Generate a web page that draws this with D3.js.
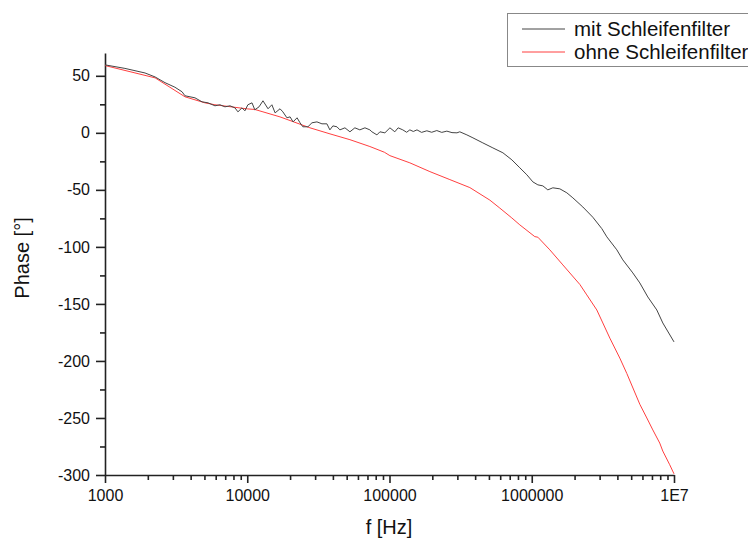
<!DOCTYPE html>
<html>
<head>
<meta charset="utf-8">
<script src="https://cdn.jsdelivr.net/npm/d3@7"></script>
<style>
    body { margin: 0; background: #fff; }
    svg { font-family: "Liberation Sans", Arial, sans-serif; }
    .axis path, .axis line { stroke: #222; stroke-width: 1.6; }
    .axis text { font-size: 16px; fill: #111; }
    .axis-title { font-size: 20px; fill: #111; }
    .legend text { font-size: 20.5px; fill: #111; }
</style>
</head>
<body>
<div id="chart"></div>
<script>

// series names (legend)
var seriesNames = ["mit Schleifenfilter", "ohne Schleifenfilter"];

// mit Schleifenfilter: frequency [Hz] / phase [°]
var mitFreq = [1000, 1380, 1910, 2250, 2640, 3100, 3480, 3650, 4290, 4810, 5300, 5930, 6430, 6970,
    7560, 8200, 8600, 9180, 9630, 10100, 10800, 11300, 12100, 12900, 14000, 14900, 15700, 17000,
    17800, 19000, 20000, 21000, 22400, 23500, 24600, 26700, 28500, 30900, 33500, 36300, 38100,
    40000, 42700, 44800, 48600, 52700, 57100, 61900, 67200, 72800, 75200, 81600, 85600, 92800,
    100700, 109000, 115000, 124000, 132000, 139000, 147000, 156000, 168000, 183000, 198000,
    215000, 233000, 253000, 275000, 298000, 312000,
    350000, 386000, 453000, 533000, 627000, 725000, 825000, 924000, 1018000, 1104000, 1197000,
    1297000, 1407000, 1576000, 1765000, 1945000, 2286000, 2688000, 3109000, 3372000, 3964000,
    4368000, 5134000, 5751000, 6545000, 7571000, 8343000, 10000000];
var mitPhase = [59.6, 56.5, 52.5, 49.0, 44.0, 40.0, 36.0, 32.5, 30.7, 27.2, 26.3, 23.7, 24.6, 22.8,
    23.7, 21.9, 18.4, 21.9, 19.3, 24.6, 26.3, 20.2, 22.8, 28.1, 21.1, 24.6, 17.5, 21.1,
    18.4, 13.2, 14.0, 9.6, 13.2, 8.8, 5.3, 5.3, 8.8, 9.6, 7.9, 7.9, 2.6,
    6.1, 5.3, 2.6, 4.4, 0.9, 4.4, 2.6, 4.4, 2.6, 0.9, -1.8, 0.9, 0,
    4.4, 0.9, 4.4, 2.6, 0.5, 2.6, 1.2, 2.6, 0.4, 1.8, 0.5,
    2.0, 0.4, 1.5, 0.2, 0, 0.9,
    -1.8, -4.4, -8.8, -13.2, -17.5, -23.7, -30.7, -36.8, -43.0, -45.6, -46.5,
    -50.0, -48.2, -49.1, -52.6, -57.0, -65.0, -74.0, -84.0, -91.2, -102.6,
    -111.4, -122.8, -131.6, -143.9, -155.3, -166.7, -183.3];

// ohne Schleifenfilter: frequency [Hz] / phase [°]
var ohneFreq = [1000, 2250, 3650, 5040, 5930, 10000, 11300, 12900, 16980, 27600, 38150, 52700,
    72800, 92000, 100700, 139000, 192300, 265700, 367200, 507600, 596700, 724000, 824700,
    1051000, 1104000, 1340000, 1655000, 2180000, 2438000, 2866000, 3160000, 3540000, 4160000,
    4660000, 5750000, 6440000, 7100000, 7940000, 8340000, 9330000, 10000000];
var ohnePhase = [59.0, 48.2, 31.6, 26.3, 24.6, 21.0, 20.5, 18.4, 14.0, 4.4, -0.9, -6.0,
    -12.0, -17.0, -20.0, -26.3, -34.0, -41.0, -48.0, -59.0, -66.0, -74.6, -80.7,
    -91.0, -91.5, -102.6, -115.8, -133.0, -142.1, -155.3, -166.7, -180.0, -197.5,
    -211.0, -238.0, -250.0, -260.5, -272.0, -279.0, -291.0, -299.0];

// axis ticks
var xTickValues = [1000, 10000, 100000, 1000000, 10000000];
var xTickLabels = ["1000", "10000", "100000", "1000000", "1E7"];
var yTickValues = [-300, -250, -200, -150, -100, -50, 0, 50];

var seriesColors = ["#444444", "#ff3f3f"];

PhaseChart = function(_parentElement){
    this.parentElement = _parentElement;
    this.initVis();
}

PhaseChart.prototype.initVis = function(){
    var vis = this;

    vis.margin = { top: 53, right: 74, bottom: 64, left: 105 };
    vis.width = 748 - vis.margin.left - vis.margin.right;
    vis.height = 539 - vis.margin.top - vis.margin.bottom;

    vis.root = d3.select("#" + vis.parentElement).append("svg")
        .attr("width", 748)
        .attr("height", 539);
    vis.svg = vis.root.append("g")
        .attr("transform", "translate(" + vis.margin.left + "," + vis.margin.top + ")");

    vis.x = d3.scaleLog().domain([1000, 10000000]).range([0, vis.width]);
    vis.y = d3.scaleLinear().domain([-300, 70]).range([vis.height, 0]);

    vis.displayData = [
        { name: seriesNames[0], values: mitFreq.map(function(f, i){ return { f: f, p: mitPhase[i] }; }) },
        { name: seriesNames[1], values: ohneFreq.map(function(f, i){ return { f: f, p: ohnePhase[i] }; }) }
    ];

    vis.drawAxes();
    vis.updateVis();
    vis.drawLegend();
}

PhaseChart.prototype.drawAxes = function(){
    var vis = this;

    // minor ticks first, majors on top
    var xMinor = [];
    xTickValues.slice(0, -1).forEach(function(d){
        for (var k = 2; k < 10; k++) xMinor.push(d * k);
    });
    vis.svg.append("g")
        .attr("class", "axis")
        .attr("transform", "translate(0," + vis.height + ")")
        .call(d3.axisBottom(vis.x).tickValues(xMinor).tickSize(5).tickFormat(""))
        .select(".domain").remove();

    vis.xAxis = d3.axisBottom(vis.x)
        .tickValues(xTickValues)
        .tickSizeInner(8).tickSizeOuter(0)
        .tickPadding(7)
        .tickFormat(function(d, i){ return xTickLabels[i]; });
    vis.svg.append("g")
        .attr("class", "x-axis axis")
        .attr("transform", "translate(0," + vis.height + ")")
        .call(vis.xAxis);

    var yMinor = yTickValues.map(function(d){ return d + 25; }).filter(function(d){ return d < 70; });
    vis.svg.append("g")
        .attr("class", "axis")
        .call(d3.axisLeft(vis.y).tickValues(yMinor).tickSize(5).tickFormat(""))
        .select(".domain").remove();

    // plain hyphen for negatives, like the original
    vis.yAxis = d3.axisLeft(vis.y)
        .tickValues(yTickValues)
        .tickSizeInner(9).tickSizeOuter(0)
        .tickPadding(6)
        .tickFormat(function(d){ return String(d); });
    vis.svg.append("g")
        .attr("class", "y-axis axis")
        .call(vis.yAxis);

    vis.root.append("text")
        .attr("class", "axis-title")
        .attr("text-anchor", "middle")
        .attr("transform", "translate(29,258) rotate(-90)")
        .text("Phase [°]");

    vis.root.append("text")
        .attr("class", "axis-title")
        .attr("text-anchor", "middle")
        .attr("x", 389)
        .attr("y", 534)
        .text("f [Hz]");
}

PhaseChart.prototype.updateVis = function(){
    var vis = this;

    var line = d3.line()
        .x(function(d){ return vis.x(d.f); })
        .y(function(d){ return vis.y(d.p); });

    vis.svg.selectAll(".series")
        .data(vis.displayData)
        .enter().append("path")
        .attr("class", "series")
        .attr("fill", "none")
        .attr("stroke-width", 1)
        .attr("stroke", function(d, i){ return seriesColors[i]; })
        .attr("d", function(d){ return line(d.values); });

    // the black trace is drawn over the red one
    vis.svg.selectAll(".series").filter(function(d, i){ return i === 0; }).raise();
}

PhaseChart.prototype.drawLegend = function(){
    var vis = this;

    var legend = vis.root.append("g").attr("class", "legend");
    legend.append("rect")
        .attr("x", 507.5).attr("y", 13.5)
        .attr("width", 260).attr("height", 53)
        .attr("fill", "#fff")
        .attr("stroke", "#888");

    var rows = legend.selectAll(".row")
        .data(seriesNames)
        .enter().append("g")
        .attr("class", "row")
        .attr("transform", function(d, i){ return "translate(0," + (29 + i * 23) + ")"; });
    rows.append("line")
        .attr("x1", 522).attr("x2", 565)
        .attr("stroke", function(d, i){ return seriesColors[i]; })
        .attr("stroke-width", 1);
    rows.append("text")
        .attr("x", 574)
        .attr("y", 7)
        .text(function(d){ return d; });
}

new PhaseChart("chart");

</script>
</body>
</html>
